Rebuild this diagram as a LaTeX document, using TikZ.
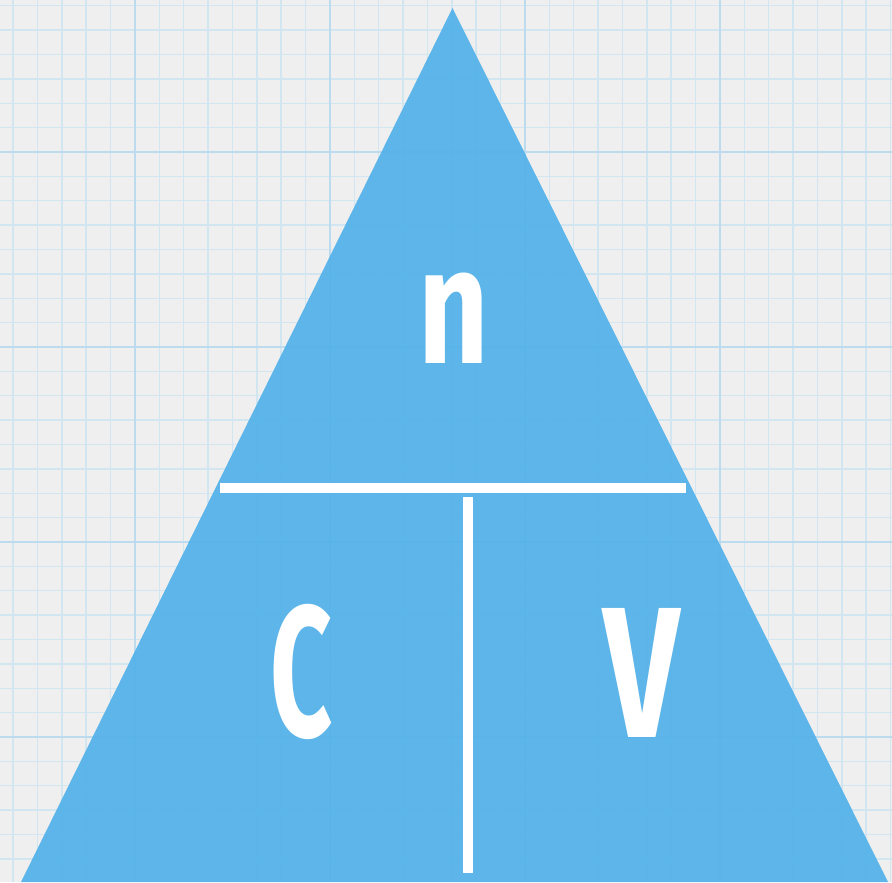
\documentclass[tikz,border=0pt]{standalone}
\usepackage{fontspec}
\usepackage{graphicx}
\usepackage{xcolor}
\newfontfamily\letterfont{Fira Sans}
\definecolor{PaperGrey}{HTML}{EFEFEF}
\definecolor{GridLight}{HTML}{D2E6F2}
\definecolor{GridDark}{HTML}{BCDBEE}
\definecolor{TriBlue}{HTML}{52B1E9}
\tikzset{
  minorline/.style={GridLight,line width=0.42pt},
  majorline/.style={GridDark,line width=0.75pt},
  barline/.style={white,line width=0.105cm},
  letter/.style={white,inner sep=0pt,font=\letterfont\bfseries}
}

\begin{document}
\begin{tikzpicture}[x=1cm,y=1cm]
\path[use as bounding box] (0,0) rectangle (8.92,8.82);
\fill[PaperGrey] (0,0) rectangle (8.92,8.82);
% grid paper
\foreach \i in {0,...,36}
  \draw[minorline] ({0.131+\i*0.24375},0) -- ++(0,8.82);
\foreach \j in {0,...,35}
  \draw[minorline] (0,{8.7625-\j*0.24375}) -- ++(8.92,0);
\foreach \x in {1.35,3.30,5.25,7.20}
  \draw[majorline] (\x,0) -- ++(0,8.82);
\foreach \y in {1.45,3.40,5.35,7.30}
  \draw[majorline] (0,\y) -- ++(8.92,0);
% triangle
\coordinate (apex) at (4.525,8.74);
\coordinate (baseL) at (0.21,0);
\coordinate (baseR) at (8.88,0);
\fill[TriBlue,fill opacity=0.92] (apex) -- (baseR) -- (baseL) -- cycle;
% dividers
\coordinate (barL) at (2.20,3.94);
\coordinate (barR) at (6.86,3.94);
\coordinate (stemT) at (4.68,3.85);
\coordinate (stemB) at (4.68,0.09);
\draw[barline] (barL) -- (barR);
\draw[barline] (stemT) -- (stemB);
% labels
\node[letter,font=\letterfont\bfseries\fontsize{47}{47}\selectfont] (moles) at (4.54,5.64) {\scalebox{0.74}[1]{n}};
\node[letter,font=\letterfont\bfseries\fontsize{53}{53}\selectfont] (conc) at (3.02,2.10) {\scalebox{0.58}[1]{C}};
\node[letter,font=\letterfont\bfseries\fontsize{53}{53}\selectfont] (vol) at (6.42,2.09) {\scalebox{0.72}[1]{V}};
\end{tikzpicture}
\end{document}
